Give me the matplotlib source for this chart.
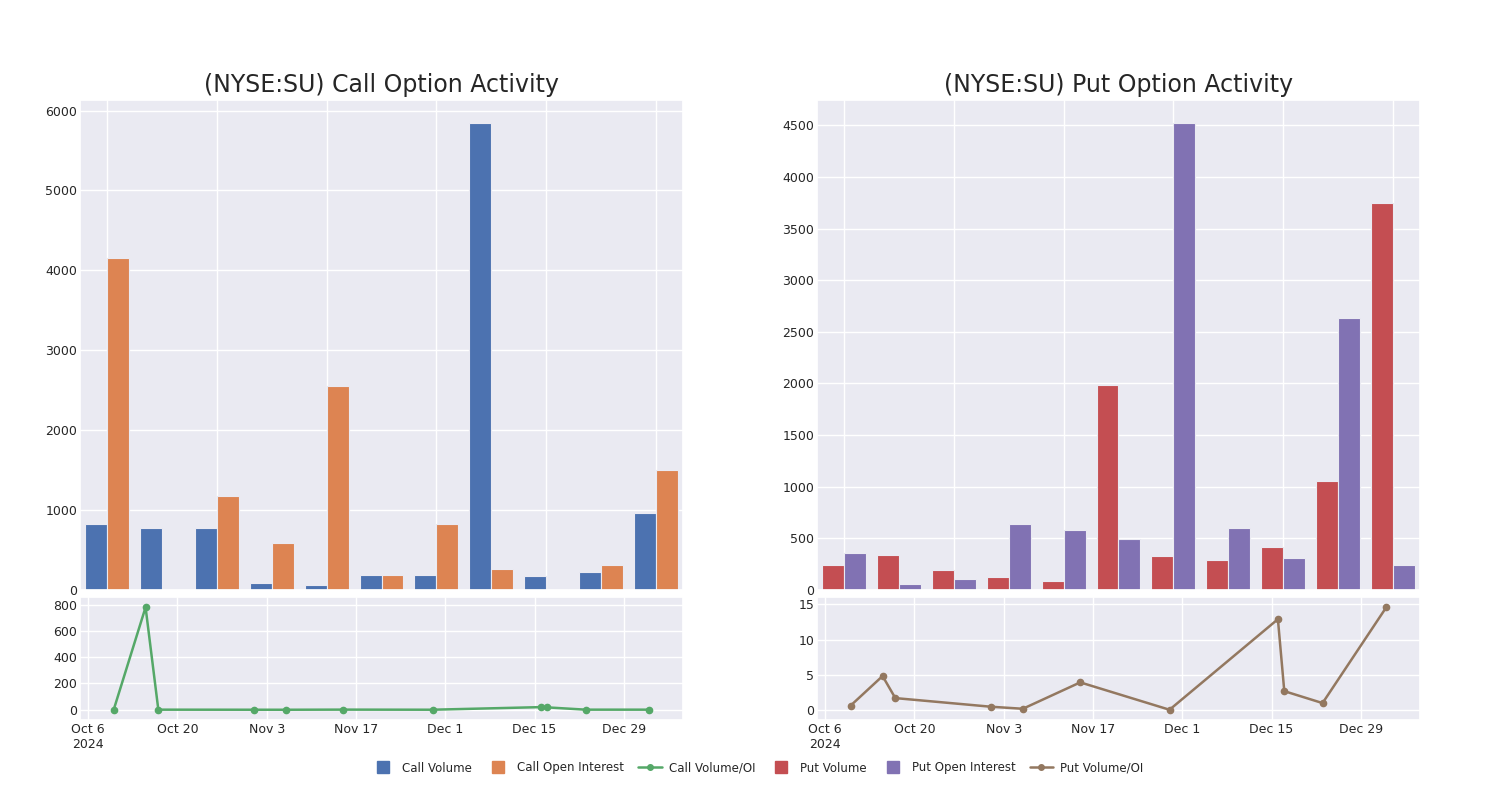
import matplotlib
matplotlib.use("Agg")
import matplotlib.pyplot as plt
from matplotlib.lines import Line2D
import numpy as np
import pandas as pd
import seaborn as sns

# data
trade_dates = pd.to_datetime([
    "2024-10-10", "2024-10-15", "2024-10-17", "2024-11-01", "2024-11-06",
    "2024-11-15", "2024-11-29", "2024-12-16", "2024-12-17", "2024-12-23",
    "2025-01-02",
])
call_volume = [828, 780, 778, 88, 63, 188, 188, 5840, 176, 226, 966]
call_open_interest = [4153, 1, 1179, 590, 2547, 190, 828, 263, 10, 314, 1506]
call_ratio = [0.2, 780, 0.66, 0.15, 0.02, 1.0, 0.23, 20, 18, 0.7, 0.64]

put_volume = [242, 340, 194, 126, 87, 1988, 330, 291, 417, 1057, 3744]
put_open_interest = [359, 58, 107, 640, 582, 495, 4520, 601, 310, 2638, 242]
put_ratio = [0.6, 4.8, 1.66, 0.43, 0.14, 3.9, 0.0, 12.9, 2.65, 0.95, 14.6]

date_ticks = pd.date_range("2024-10-06", periods=7, freq="14D")
date_tick_labels = ["Oct 6\n2024", "Oct 20", "Nov 3", "Nov 17", "Dec 1", "Dec 15", "Dec 29"]

call_yticks = [0, 200, 400, 600, 800]
put_yticks = [0, 5, 10, 15]

COLORS = {
    "call_volume": "#4C72B0",
    "call_oi": "#DD8452",
    "call_ratio": "#55A868",
    "put_volume": "#C44E52",
    "put_oi": "#8172B3",
    "put_ratio": "#937860",
}

sns.set_theme(style="darkgrid")
plt.rcParams["font.family"] = ["DejaVu Sans"]

TICK_SIZE = 9


def draw_bars(ax, volume, open_interest, vol_color, oi_color, title):
    x = np.arange(len(volume))
    width = 0.4
    ax.bar(x - width / 2, volume, width, color=vol_color, edgecolor="#EAEAF2", linewidth=0.8)
    ax.bar(x + width / 2, open_interest, width, color=oi_color, edgecolor="#EAEAF2", linewidth=0.8)
    ax.set_xlim(-0.5, len(volume) - 0.5)
    ax.set_xticks(x[::2])
    ax.set_xticklabels([])
    ax.tick_params(axis="x", length=0)
    ax.tick_params(axis="y", labelsize=TICK_SIZE, length=0, pad=2)
    ax.set_title(title, fontsize=17)


def draw_ratio(ax, ratio, color, yticks):
    ax.plot(trade_dates, ratio, color=color, marker="o", markersize=4.5, linewidth=1.8)
    ax.margins(x=0.063, y=0.1)
    ax.set_xticks(date_ticks)
    ax.set_xticklabels(date_tick_labels)
    ax.set_yticks(yticks)
    ax.tick_params(labelsize=TICK_SIZE, length=0, pad=2)


fig = plt.figure(figsize=(15, 8), dpi=100)
outer = fig.add_gridspec(2, 2, height_ratios=[490, 123], hspace=0.023, wspace=0.222,
                         left=0.0533, right=0.9467, top=0.875, bottom=0.1)

ax_call = fig.add_subplot(outer[0, 0])
ax_call_ratio = fig.add_subplot(outer[1, 0])
ax_put = fig.add_subplot(outer[0, 1])
ax_put_ratio = fig.add_subplot(outer[1, 1])

draw_bars(ax_call, call_volume, call_open_interest, COLORS["call_volume"], COLORS["call_oi"],
          "(NYSE:SU) Call Option Activity")
draw_bars(ax_put, put_volume, put_open_interest, COLORS["put_volume"], COLORS["put_oi"],
          "(NYSE:SU) Put Option Activity")
ax_put.set_yticks(np.arange(0, 4501, 500))

draw_ratio(ax_call_ratio, call_ratio, COLORS["call_ratio"], call_yticks)
draw_ratio(ax_put_ratio, put_ratio, COLORS["put_ratio"], put_yticks)

handles = [
    Line2D([], [], color=COLORS["call_volume"], marker="s", linestyle="", markersize=8.5),
    Line2D([], [], color=COLORS["call_oi"], marker="s", linestyle="", markersize=8.5),
    Line2D([], [], color=COLORS["call_ratio"], marker="o", markersize=4, linewidth=1.8),
    Line2D([], [], color=COLORS["put_volume"], marker="s", linestyle="", markersize=8.5),
    Line2D([], [], color=COLORS["put_oi"], marker="s", linestyle="", markersize=8.5),
    Line2D([], [], color=COLORS["put_ratio"], marker="o", markersize=4, linewidth=1.8),
]
labels = ["Call Volume", "Call Open Interest", "Call Volume/OI",
          "Put Volume", "Put Open Interest", "Put Volume/OI"]
fig.legend(handles, labels, loc="center", bbox_to_anchor=(0.505, 0.04), ncol=6,
           frameon=False, fontsize=8.5, handlelength=2, handletextpad=0.6,
           columnspacing=1.2)

fig.savefig("out.png", dpi=100)
